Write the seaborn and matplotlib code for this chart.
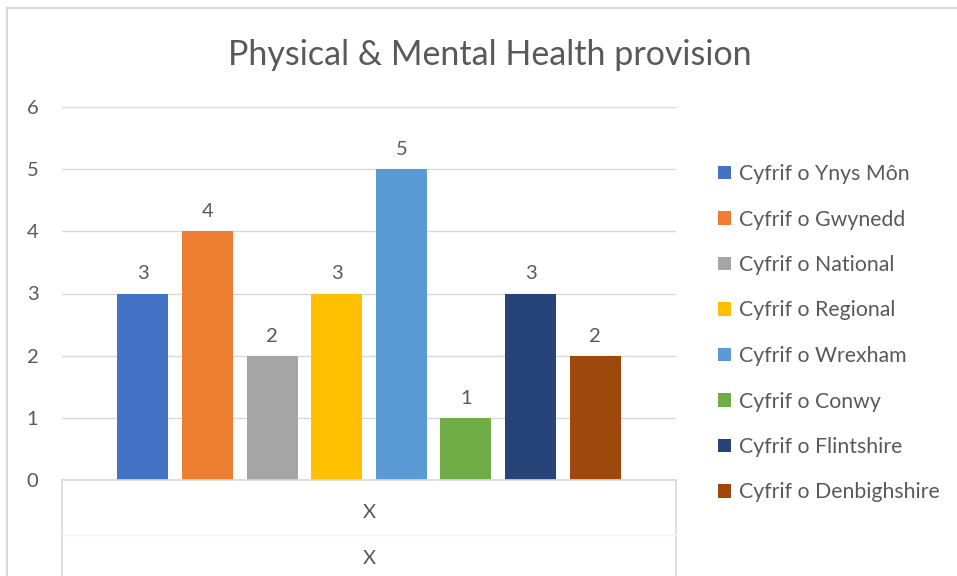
import pandas as pd
import matplotlib.pyplot as plt
import seaborn as sns
from matplotlib.lines import Line2D
from matplotlib.transforms import blended_transform_factory

# datos
categoria = ["X"]
series = ["Cyfrif o Ynys Môn", "Cyfrif o Gwynedd", "Cyfrif o National", "Cyfrif o Regional",
          "Cyfrif o Wrexham", "Cyfrif o Conwy", "Cyfrif o Flintshire", "Cyfrif o Denbighshire"]
valores = [3, 4, 2, 3, 5, 1, 3, 2]
colores = ["#4472c4", "#ed7d31", "#a5a5a5", "#ffc000", "#5b9bd5", "#70ad47", "#264478", "#9e480e"]
yticks = [0, 1, 2, 3, 4, 5, 6]

tabla = pd.DataFrame({"cat": categoria * len(series), "serie": series, "valor": valores})

sns.set_theme(style="white")
plt.rcParams['font.family'] = ['Lato', 'DejaVu Sans']
gris_txt = "#595959"
gris_lin = "#d9d9d9"

fig = plt.figure(figsize=(9.57, 5.76), dpi=100)
W, H = 957, 576
ax = fig.add_axes([62 / W, 1 - 480 / H, (676 - 62) / W, (480 - 107) / H])

sns.barplot(data=tabla, x="cat", y="valor", hue="serie", hue_order=series,
            palette=colores, width=0.842, gap=0.21, saturation=1, linewidth=0,
            errorbar=None, legend=True, ax=ax)

for cont in ax.containers:
    ax.bar_label(cont, padding=8, fontsize=14.5, color=gris_txt)

ax.set_xlim(-0.5, 0.5)
ax.set_ylim(0, 6)
ax.set_yticks(yticks)
ax.tick_params(axis="y", length=0, pad=17, labelsize=14.5, labelcolor=gris_txt)
ax.set_xticks([])
ax.set_xlabel("")
ax.set_ylabel("")
ax.yaxis.grid(True, color=gris_lin, linewidth=1)
ax.set_axisbelow(True)
for s in ["top", "right", "left"]:
    ax.spines[s].set_visible(False)
ax.spines["bottom"].set_color(gris_lin)
ax.spines["bottom"].set_linewidth(1.2)

# etiquetas de categoría en dos niveles (estilo Excel)
tr = blended_transform_factory(ax.transData, fig.transFigure)
ax.text(0, 1 - 512 / H, categoria[0], transform=tr, ha="center", va="center",
        fontsize=14.5, color=gris_txt)
ax.text(0, 1 - 558 / H, categoria[0], transform=tr, ha="center", va="center",
        fontsize=14.5, color=gris_txt)
for xf in [62 / W, 676 / W]:
    fig.add_artist(Line2D([xf, xf], [0, 1 - 480 / H], color=gris_lin, linewidth=1.2))
fig.add_artist(Line2D([62 / W, 676 / W], [1 - 535 / H] * 2, color="#f4f4f4", linewidth=1))

# borde del área del gráfico
fig.add_artist(Line2D([7 / W, 1], [1 - 8 / H] * 2, color=gris_lin, linewidth=1.5))
fig.add_artist(Line2D([7 / W] * 2, [0, 1 - 8 / H], color=gris_lin, linewidth=1.5))

fig.text(490 / W, 1 - 55 / H, "Physical & Mental Health provision", ha="center", va="center",
         fontsize=24.5, color=gris_txt)

handles, labels = ax.get_legend_handles_labels()
ax.legend(handles, labels, loc="upper left", bbox_to_anchor=(718 / W, 1 - 164 / H),
          bbox_transform=fig.transFigure, frameon=False, fontsize=15.3,
          labelcolor=gris_txt, handlelength=0.62, handleheight=0.62,
          handletextpad=0.35, labelspacing=1.2, borderaxespad=0, borderpad=0)

fig.savefig("out.png", dpi=100)
